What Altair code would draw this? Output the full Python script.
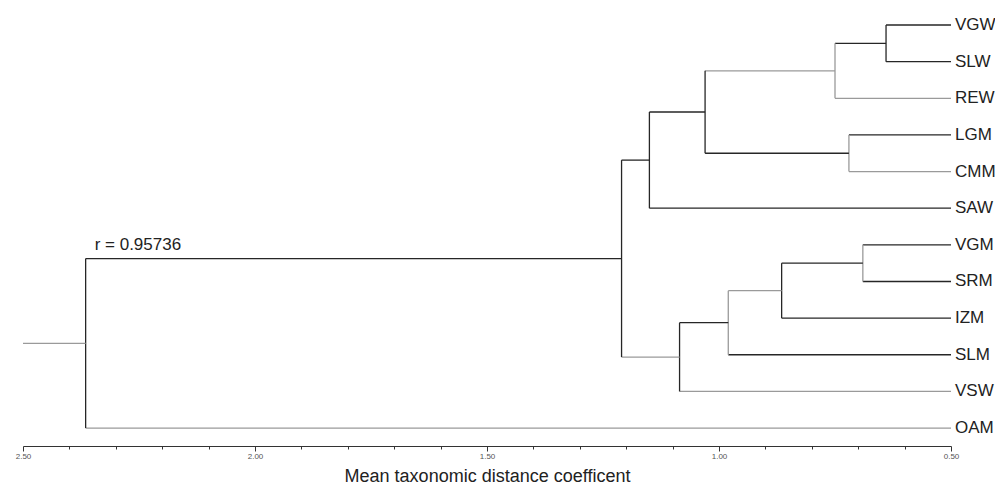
import altair as alt
import pandas as pd

# Leaves in display order (top to bottom)
leaves = ["VGW", "SLW", "REW", "LGM", "CMM", "SAW",
          "VGM", "SRM", "IZM", "SLM", "VSW", "OAM"]

# Agglomeration steps: node N1..N11
merge_left = ["VGW", "N1", "LGM", "N2", "N4", "VGM", "N6", "N7", "N8", "N5", "N10"]
merge_right = ["SLW", "REW", "CMM", "N3", "SAW", "SRM", "IZM", "SLM", "VSW", "N9", "OAM"]
merge_height = [0.64, 0.75, 0.72, 1.03, 1.15, 0.69, 0.865, 0.98, 1.085, 1.21, 2.365]
root_end = 2.50

# Line tones: d = dark, g = grey
branch_tone = {"VGW": "d", "SLW": "d", "N1": "d", "REW": "g", "N2": "g",
               "LGM": "d", "CMM": "g", "N3": "d", "N4": "d", "SAW": "d",
               "N5": "d", "VGM": "d", "SRM": "d", "N6": "d", "IZM": "d",
               "N7": "g", "SLM": "d", "N8": "d", "VSW": "g", "N9": "g",
               "N10": "d", "OAM": "g", "N11": "g"}
vertical_tone = ["d", "g", "g", "d", "d", "g", "d", "g", "d", "d", "d"]

leaf_height = 0.50
annotation = "r = 0.95736"
x_title = "Mean taxonomic distance coefficent"
tick_values = [round(0.5 + 0.1 * i, 2) for i in range(21)]

tones = {"d": "#262626", "g": "#9a9a9a"}

# Build segments from the tree structure
ypos = {name: i for i, name in enumerate(leaves)}
xpos = {name: leaf_height for name in leaves}
rows = []
for k, (l, r, h) in enumerate(zip(merge_left, merge_right, merge_height)):
    node = f"N{k + 1}"
    for child in (l, r):
        rows.append({"x": xpos[child], "x2": h, "y": ypos[child], "y2": ypos[child],
                     "c": tones[branch_tone[child]]})
    rows.append({"x": h, "x2": h, "y": ypos[l], "y2": ypos[r],
                 "c": tones[vertical_tone[k]]})
    ypos[node] = (ypos[l] + ypos[r]) / 2
    xpos[node] = h
top = f"N{len(merge_height)}"
rows.append({"x": xpos[top], "x2": root_end, "y": ypos[top], "y2": ypos[top],
             "c": tones[branch_tone[top]]})
seg = pd.DataFrame(rows)

leaf_df = pd.DataFrame({"x": [leaf_height] * len(leaves),
                        "y": list(range(len(leaves))), "label": leaves})
ann_df = pd.DataFrame({"x": [merge_height[-1]], "y": [ypos["N10"]], "label": [annotation]})

xscale = alt.Scale(domain=[0.5, 2.5], reverse=True, nice=False, zero=False)
yscale = alt.Scale(domain=[-0.464, 11.49], reverse=True, nice=False, zero=False)

major = "abs(datum.value*2 - round(datum.value*2)) < 0.001"

lines = alt.Chart(seg).mark_rule(strokeWidth=1.3).encode(
    x=alt.X("x:Q", scale=xscale, title=x_title,
            axis=alt.Axis(values=tick_values, grid=False,
                          labelExpr=f"{major} ? format(datum.value, '.2f') : ''",
                          labelFontSize=8, labelColor="#555555", labelFont="Liberation Sans",
                          labelPadding=1, labelFlush=False,
                          tickColor="#333333", tickWidth=1,
                          tickSize={"condition": {"test": major, "value": 5}, "value": 3},
                          domainColor="#333333", domainWidth=1,
                          titleFont="Liberation Sans", titleFontSize=18,
                          titleFontWeight="normal", titleColor="#222222",
                          titlePadding=7)),
    x2="x2:Q",
    y=alt.Y("y:Q", scale=yscale, axis=None),
    y2="y2:Q",
    color=alt.Color("c:N", scale=None),
)

labels = alt.Chart(leaf_df).mark_text(
    align="left", baseline="middle", dx=4, fontSize=17,
    font="Liberation Sans", color="#222222"
).encode(x=alt.X("x:Q", scale=xscale), y=alt.Y("y:Q", scale=yscale), text="label:N")

ann = alt.Chart(ann_df).mark_text(
    align="left", baseline="bottom", dx=9, dy=-5, fontSize=17,
    font="Liberation Sans", color="#222222"
).encode(x=alt.X("x:Q", scale=xscale), y=alt.Y("y:Q", scale=yscale), text="label:N")

chart = alt.layer(lines, labels, ann).properties(
    width=928, height=438,
    autosize=alt.AutoSizeParams(type="none"),
    padding={"left": 15, "top": 0, "right": 44, "bottom": 42},
).configure(background="white", view=alt.ViewConfig(stroke=None))

chart.save("out.html", embed_options={"renderer": "svg", "actions": False})
